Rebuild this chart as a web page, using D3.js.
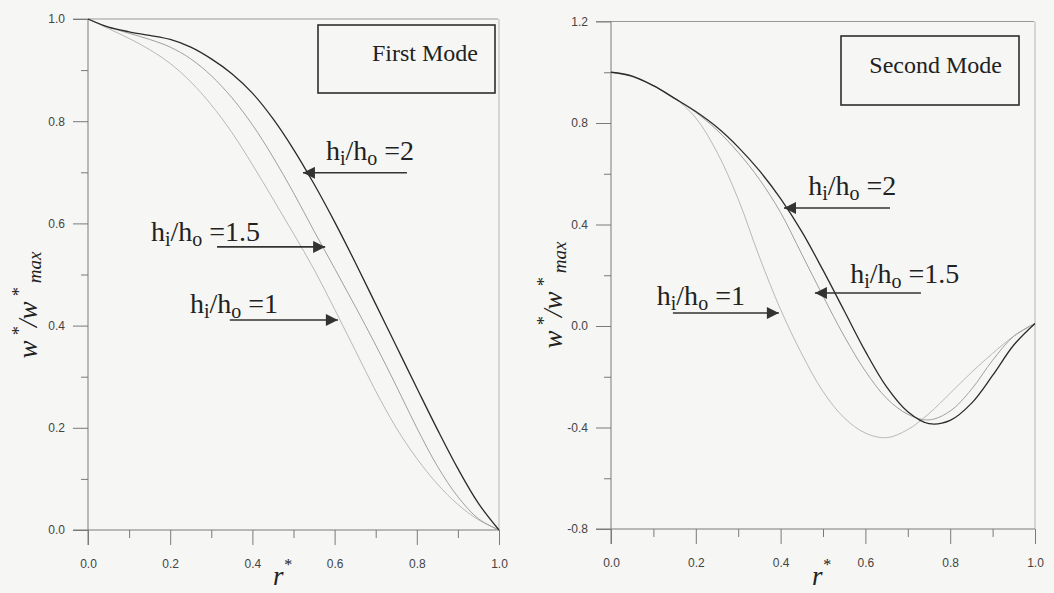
<!DOCTYPE html>
<html>
<head>
<meta charset="utf-8">
<script src="https://cdn.jsdelivr.net/npm/d3@7"></script>
<style>
  body { margin: 0; background: #f6f6f4; }
  svg { display: block; }
</style>
</head>
<body>
<div id="chart"></div>
<script>
const width = 1054;
const height = 593;

// radial coordinate r*
const rStar = [0, 0.05, 0.1, 0.15, 0.2, 0.25, 0.3, 0.35, 0.4, 0.45, 0.5,
  0.55, 0.6, 0.65, 0.7, 0.75, 0.8, 0.85, 0.9, 0.95, 1.0];

// first mode, w*/w*max
const firstH1 = [1.0, 0.981, 0.962, 0.940, 0.913, 0.877, 0.832, 0.778, 0.715, 0.648, 0.580,
  0.510, 0.432, 0.352, 0.272, 0.200, 0.140, 0.090, 0.050, 0.020, 0.0];
const firstH15 = [1.0, 0.984, 0.972, 0.960, 0.945, 0.922, 0.889, 0.846, 0.793, 0.730, 0.660,
  0.585, 0.512, 0.438, 0.362, 0.282, 0.200, 0.125, 0.065, 0.022, 0.0];
const firstH2 = [1.0, 0.984, 0.975, 0.968, 0.960, 0.945, 0.922, 0.893, 0.855, 0.805, 0.745,
  0.677, 0.603, 0.524, 0.442, 0.360, 0.278, 0.197, 0.120, 0.052, 0.0];

// second mode, w*/w*max
const secondH1 = [1.0, 0.982, 0.947, 0.898, 0.820, 0.685, 0.500, 0.272, 0.065, -0.110, -0.258,
  -0.362, -0.422, -0.440, -0.408, -0.345, -0.265, -0.183, -0.108, -0.040, 0.01];
const secondH15 = [1.0, 0.985, 0.947, 0.897, 0.842, 0.772, 0.684, 0.578, 0.447, 0.283, 0.118,
  -0.040, -0.178, -0.285, -0.348, -0.370, -0.335, -0.250, -0.135, -0.040, 0.01];
const secondH2 = [1.0, 0.985, 0.947, 0.897, 0.845, 0.783, 0.705, 0.612, 0.502, 0.372, 0.220,
  0.060, -0.100, -0.240, -0.338, -0.385, -0.372, -0.305, -0.195, -0.075, 0.01];

const xTicks = [0, 0.2, 0.4, 0.6, 0.8, 1.0];
const xMinor = [0.1, 0.3, 0.5, 0.7, 0.9];
const firstYTicks = [0, 0.2, 0.4, 0.6, 0.8, 1.0];
const firstYMinor = [0.1, 0.3, 0.5, 0.7, 0.9];
const secondYTicks = [-0.8, -0.4, 0, 0.4, 0.8, 1.2];
const secondYMinor = [-0.6, -0.2, 0.2, 0.6, 1.0];

const ratioLabels = ["=1", "=1.5", "=2"];

const svg = d3.select("#chart").append("svg")
  .attr("width", width).attr("height", height);

svg.append("rect").attr("width", width).attr("height", height).attr("fill", "#f6f6f4");

const serif = "'Liberation Serif', 'Times New Roman', serif";
const sans = "'Liberation Sans', Arial, sans-serif";
const curveStyles = [
  { color: "#b9b9b9", w: 1 },
  { color: "#a0a0a0", w: 1 },
  { color: "#2b2b2b", w: 1.3 }
];

const panels = [
  {
    x0: 88, x1: 499, yDom: [0, 1], yRange: [530, 19],
    yTicks: firstYTicks, yMinor: firstYMinor,
    series: [firstH1, firstH15, firstH2],
    box: [318, 25, 177, 68], boxText: "First Mode", boxTextX: 478, boxTextY: 61,
    // [text r, text v, arrow from r, arrow to r, arrow v]
    notes: [[0.248, 0.425, 0.345, 0.608, 0.411], [0.153, 0.566, 0.314, 0.577, 0.554], [0.579, 0.724, 0.776, 0.523, 0.699]],
    yTitle: [37, 305], rTitleX: 273
  },
  {
    x0: 611, x1: 1035, yDom: [-0.8, 1.2], yRange: [529, 21.5],
    yTicks: secondYTicks, yMinor: secondYMinor,
    series: [secondH1, secondH15, secondH2],
    box: [841, 36, 178, 69], boxText: "Second Mode", boxTextX: 1002, boxTextY: 73,
    notes: [[0.108, 0.083, 0.146, 0.396, 0.051], [0.564, 0.169, 0.731, 0.481, 0.13], [0.465, 0.516, 0.658, 0.408, 0.465]],
    yTitle: [562, 295], rTitleX: 812
  }
];

const defs = svg.append("defs");
defs.append("marker")
  .attr("id", "head")
  .attr("viewBox", "0 0 10 10")
  .attr("refX", 10).attr("refY", 5)
  .attr("markerWidth", 9).attr("markerHeight", 7.5)
  .attr("markerUnits", "strokeWidth")
  .attr("orient", "auto")
  .append("path").attr("d", "M0,0 L10,5 L0,10 Z").attr("fill", "#333");

const axisColor = "#7a7a7a";

panels.forEach((p) => {
  const x = d3.scaleLinear().domain([0, 1]).range([p.x0, p.x1]);
  const y = d3.scaleLinear().domain(p.yDom).range(p.yRange);
  const g = svg.append("g");
  const yBottom = p.yRange[0];
  const yTop = p.yRange[1];

  // frame lines
  g.append("line").attr("x1", p.x0 - 15).attr("x2", p.x1 - 1).attr("y1", yTop).attr("y2", yTop)
    .attr("stroke", "#999").attr("stroke-width", 1);
  g.append("line").attr("x1", p.x1).attr("x2", p.x1).attr("y1", yTop).attr("y2", yBottom)
    .attr("stroke", "#b5b5b5").attr("stroke-width", 1);
  g.append("line").attr("x1", p.x0 - 15).attr("x2", p.x1).attr("y1", yBottom).attr("y2", yBottom)
    .attr("stroke", axisColor).attr("stroke-width", 1);
  g.append("line").attr("x1", p.x0).attr("x2", p.x0).attr("y1", yTop).attr("y2", yBottom + 15)
    .attr("stroke", axisColor).attr("stroke-width", 1);

  // y axis
  const yAxis = g.append("g").attr("transform", `translate(${p.x0},0)`)
    .call(d3.axisLeft(y).tickValues(p.yTicks).tickSize(15).tickPadding(8).tickFormat((d) => d.toFixed(1)));
  const yMinorAxis = g.append("g").attr("transform", `translate(${p.x0},0)`)
    .call(d3.axisLeft(y).tickValues(p.yMinor).tickSize(7).tickFormat(""));

  // x axis
  const xAxis = g.append("g").attr("transform", `translate(0,${yBottom})`)
    .call(d3.axisBottom(x).tickValues(xTicks).tickSize(15).tickPadding(14).tickFormat((d) => d.toFixed(1)));
  const xMinorAxis = g.append("g").attr("transform", `translate(0,${yBottom})`)
    .call(d3.axisBottom(x).tickValues(xMinor).tickSize(8).tickFormat(""));

  [yAxis, yMinorAxis, xAxis, xMinorAxis].forEach((a) => {
    a.select(".domain").remove();
    a.selectAll("line").attr("stroke", axisColor);
    a.selectAll("text").attr("fill", "#444").style("font-family", sans).style("font-size", "12px");
  });

  // curves
  const line = d3.line().x((d) => x(d[0])).y((d) => y(d[1])).curve(d3.curveCatmullRom.alpha(0.5));
  p.series.forEach((vals, i) => {
    g.append("path")
      .datum(rStar.map((r, k) => [r, vals[k]]))
      .attr("d", line)
      .attr("fill", "none")
      .attr("stroke", curveStyles[i].color)
      .attr("stroke-width", curveStyles[i].w);
  });

  // mode box
  g.append("rect")
    .attr("x", p.box[0]).attr("y", p.box[1]).attr("width", p.box[2]).attr("height", p.box[3])
    .attr("fill", "none").attr("stroke", "#2e2e2e").attr("stroke-width", 1.6);
  g.append("text")
    .attr("x", p.boxTextX).attr("y", p.boxTextY)
    .attr("text-anchor", "end")
    .style("font-family", serif).style("font-size", "24px").attr("fill", "#222")
    .text(p.boxText);

  // ratio labels with arrows
  p.notes.forEach((n, i) => {
    const t = g.append("text")
      .attr("x", x(n[0])).attr("y", y(n[1]))
      .style("font-family", serif).style("font-size", "28px").attr("fill", "#222");
    t.append("tspan").text("h");
    t.append("tspan").attr("dy", 5).style("font-size", "20px").text("i");
    t.append("tspan").attr("dy", -5).text("/h");
    t.append("tspan").attr("dy", 5).style("font-size", "20px").text("o");
    t.append("tspan").attr("dy", -5).text(" " + ratioLabels[i]);

    g.append("line")
      .attr("x1", x(n[2])).attr("x2", x(n[3]))
      .attr("y1", y(n[4])).attr("y2", y(n[4]))
      .attr("stroke", "#333").attr("stroke-width", 1.6)
      .attr("marker-end", "url(#head)");
  });

  // axis titles
  const yt = g.append("text")
    .attr("transform", `translate(${p.yTitle[0]},${p.yTitle[1]}) rotate(-90)`)
    .attr("text-anchor", "middle")
    .style("font-family", serif).style("font-style", "italic").style("font-size", "27px").attr("fill", "#222");
  yt.append("tspan").text("w");
  yt.append("tspan").attr("dy", -12).style("font-size", "18px").text(" *");
  yt.append("tspan").attr("dy", 12).text("/w");
  yt.append("tspan").attr("dy", -12).style("font-size", "18px").text(" *");
  yt.append("tspan").attr("dy", 16).style("font-size", "19px").text(" max");

  const rt = g.append("text")
    .attr("x", p.rTitleX).attr("y", 585)
    .style("font-family", serif).style("font-style", "italic").style("font-size", "27px").attr("fill", "#222");
  rt.append("tspan").text("r");
  rt.append("tspan").attr("dy", -15).style("font-size", "16px").text("*");
});
</script>
</body>
</html>
